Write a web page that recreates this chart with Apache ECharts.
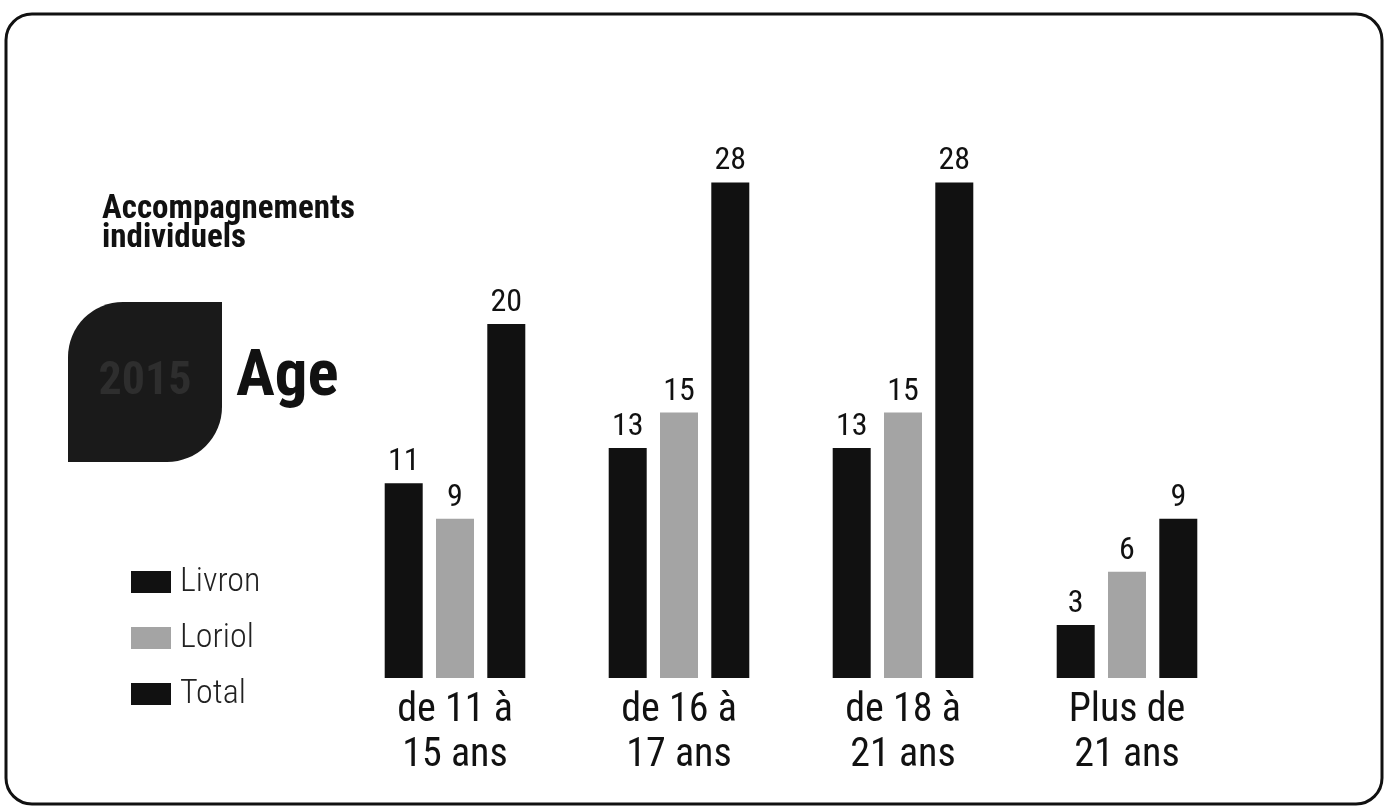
<!DOCTYPE html>
<html><head><meta charset="utf-8">
<script src="https://cdn.jsdelivr.net/npm/echarts@6/dist/echarts.min.js"></script>
<style>html,body{margin:0;padding:0;background:#fff}#c{width:1388px;height:810px}</style>
</head><body><div id="c"></div>
<script>
const categories = ['de 11 à\n15 ans', 'de 16 à\n17 ans', 'de 18 à\n21 ans', 'Plus de\n21 ans'];
const livron = [11, 13, 13, 3];
const loriol = [9, 15, 15, 6];
const total = [20, 28, 28, 9];
const seriesNames = ['Livron', 'Loriol', 'Total'];

const FONT = '"Roboto Condensed", "Liberation Sans Narrow", Roboto, sans-serif';
const chart = echarts.init(document.getElementById('c'));
const lbl = {show: true, position: 'top', distance: 5, fontSize: 32, color: '#111', fontFamily: FONT};
chart.setOption({
  animation: false,
  backgroundColor: '#fff',
  grid: {left: 343, right: 149, top: 147, bottom: 132},
  xAxis: {
    type: 'category', data: categories,
    axisLine: {show: false}, axisTick: {show: false},
    axisLabel: {fontSize: 40, color: '#111', fontFamily: FONT, lineHeight: 45, margin: 10}
  },
  yAxis: {type: 'value', min: 0, max: 30, show: false, splitLine: {show: false}},
  legend: {
    orient: 'vertical', left: 126, top: 560, itemWidth: 40, itemHeight: 22, itemGap: 22,
    icon: 'rect', data: seriesNames,
    textStyle: {fontSize: 34, color: '#222', fontFamily: FONT, fontWeight: 300, padding: [0,0,0,4]}
  },
  series: [
    {name: 'Livron', type: 'bar', data: livron, barWidth: 38, barGap: '35%', itemStyle: {color: '#111'}, label: lbl},
    {name: 'Loriol', type: 'bar', data: loriol, barWidth: 38, barGap: '35%', itemStyle: {color: '#a4a4a4'}, label: lbl},
    {name: 'Total', type: 'bar', data: total, barWidth: 38, barGap: '35%', itemStyle: {color: '#111'}, label: lbl}
  ],
  graphic: [
    {type: 'rect', shape: {x: 6, y: 14, width: 1376, height: 790, r: 26}, style: {fill: 'none', stroke: '#111', lineWidth: 3}, silent: true},
    {type: 'text', left: 102, top: 193, style: {text: 'Accompagnements\nindividuels', font: 'bold 33px ' + FONT, fill: '#111', lineHeight: 29}},
    {type: 'rect', shape: {x: 68, y: 302, width: 154, height: 160, r: [55, 0, 55, 0]}, style: {fill: '#1a1a1a'}},
    {type: 'text', x: 145, y: 382, style: {text: '2015', font: 'bold 46px ' + FONT, fill: '#2e2e2e', align: 'center', verticalAlign: 'middle'}},
    {type: 'text', x: 236, y: 379, style: {text: 'Age', font: 'bold 65px ' + FONT, fill: '#111', verticalAlign: 'middle'}}
  ]
});
</script></body></html>
